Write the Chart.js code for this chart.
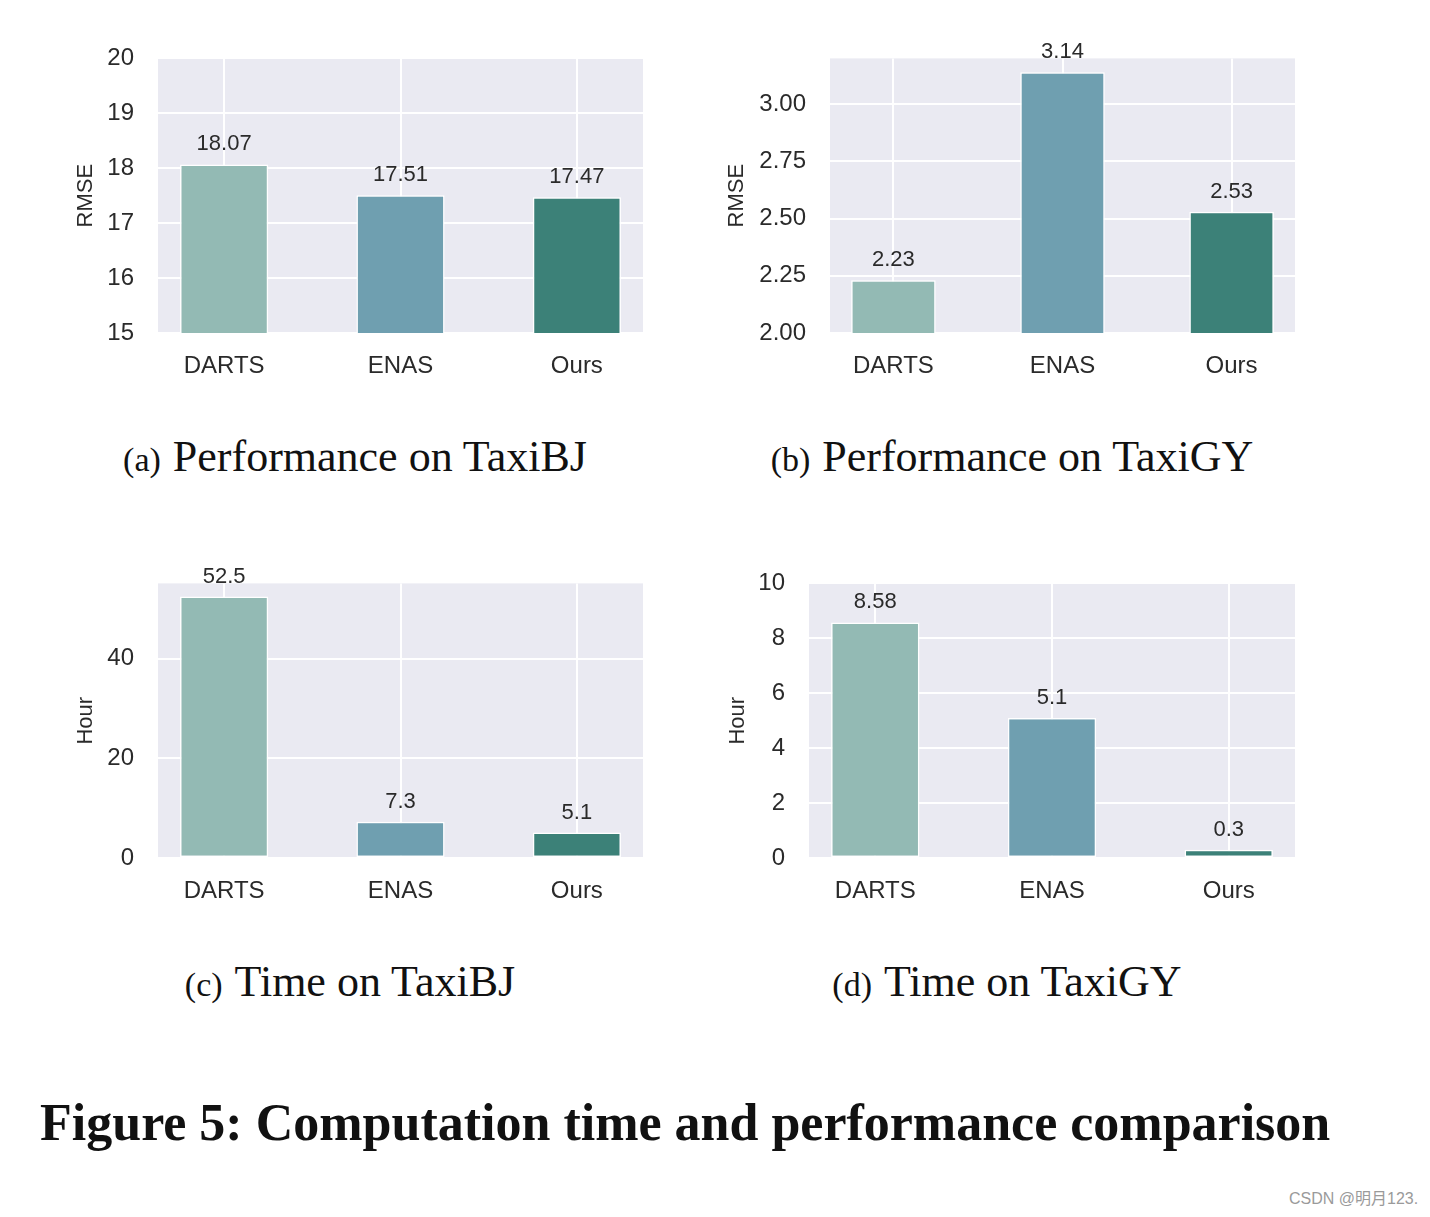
<!DOCTYPE html>
<html>
<head>
<meta charset="utf-8">
<script src="https://cdn.jsdelivr.net/npm/chart.js@4.4.0/dist/chart.umd.min.js"></script>
<style>
  html, body { margin: 0; padding: 0; background: #fff; }
  #page { position: relative; width: 1430px; height: 1217px; background: #fff; overflow: hidden; }
  canvas { position: absolute; }
  .cap {
    position: absolute; width: 700px; text-align: center; white-space: nowrap;
    font-family: 'Liberation Serif', 'DejaVu Serif', serif; font-size: 44px; line-height: 1; color: #111;
  }
  .cap .tag { font-size: 34px; margin-right: 12px; }
  #fig-title {
    position: absolute; left: 40px; top: 1097px; white-space: nowrap;
    font-family: 'Liberation Serif', 'DejaVu Serif', serif; font-weight: bold; font-size: 52px; line-height: 1; color: #111;
  }
  #mark {
    position: absolute; left: 1289px; top: 1191px; white-space: nowrap;
    font-family: 'Liberation Sans', 'Noto Sans CJK SC', sans-serif; font-size: 16px; line-height: 1; color: #9a9a9a;
  }
</style>
</head>
<body>
<div id="page">
  <canvas id="chartA" width="600" height="380" style="left:60px;top:20px"></canvas>
  <canvas id="chartB" width="600" height="380" style="left:710px;top:20px"></canvas>
  <canvas id="chartC" width="600" height="380" style="left:60px;top:545px"></canvas>
  <canvas id="chartD" width="600" height="380" style="left:710px;top:545px"></canvas>

  <div class="cap" style="left:5px;top:435px"><span class="tag">(a)</span>Performance on TaxiBJ</div>
  <div class="cap" style="left:662px;top:435px"><span class="tag">(b)</span>Performance on TaxiGY</div>
  <div class="cap" style="left:0px;top:960px"><span class="tag">(c)</span>Time on TaxiBJ</div>
  <div class="cap" style="left:657px;top:960px"><span class="tag">(d)</span>Time on TaxiGY</div>

  <div id="fig-title">Figure 5: Computation time and performance comparison</div>
  <div id="mark">CSDN @明月123.</div>
</div>

<script>
// ── Data ──────────────────────────────────────────────────────
const methods     = ['DARTS', 'ENAS', 'Ours'];
const barColors   = ['#93bab4', '#6f9fb0', '#3c8178'];

const rmseTaxiBJ  = [18.07, 17.51, 17.47];
const rmseTaxiGY  = [2.23, 3.14, 2.53];
const hourTaxiBJ  = [52.5, 7.3, 5.1];
const hourTaxiGY  = [8.58, 5.1, 0.3];

const ticksRmseBJ = [15, 16, 17, 18, 19, 20];
const ticksRmseGY = [2.00, 2.25, 2.50, 2.75, 3.00];
const ticksHourBJ = [0, 20, 40];
const ticksHourGY = [0, 2, 4, 6, 8, 10];

// ── Theme (seaborn darkgrid look) ─────────────────────────────
const PLOT_BG   = '#eaeaf2';
const TEXT_COL  = '#2a2a2a';
const SANS      = "'Liberation Sans', Arial, sans-serif";

// fill the plot area before anything else is drawn
const plotBg = {
  id: 'plotBg',
  beforeDraw(chart) {
    const { ctx, chartArea: a } = chart;
    ctx.save();
    ctx.fillStyle = PLOT_BG;
    ctx.fillRect(a.left, a.top, a.right - a.left, a.bottom - a.top);
    ctx.restore();
  },
};

// numbers on top of the bars
const valueLabels = {
  id: 'valueLabels',
  afterDatasetsDraw(chart) {
    const { ctx } = chart;
    const meta = chart.getDatasetMeta(0);
    const vals = chart.data.datasets[0].data;
    ctx.save();
    ctx.font = `22px ${SANS}`;
    ctx.fillStyle = TEXT_COL;
    ctx.textAlign = 'center';
    ctx.textBaseline = 'middle';
    meta.data.forEach((bar, i) => {
      ctx.fillText(String(vals[i].y), bar.x, bar.y - 20);
    });
    ctx.restore();
  },
};

// ── Builder ───────────────────────────────────────────────────
function makeChart(canvasId, values, yRange, yTicks, decimals, yTitle, box) {
  const ctx = document.getElementById(canvasId).getContext('2d');
  return new Chart(ctx, {
    type: 'bar',
    data: {
      datasets: [{
        data:            values.map((v, i) => ({ x: i, y: v })),
        backgroundColor: barColors,
        borderColor:     '#ffffff',
        borderWidth:     1.5,
        borderSkipped:   false,
        barPercentage:   0.5,
        categoryPercentage: 1,
      }],
    },
    options: {
      responsive: false,
      animation:  false,
      events:     [],
      devicePixelRatio: 1,
      layout: { padding: { left: 0, top: box.padT, right: box.padR, bottom: 0 } },
      plugins: { legend: { display: false }, tooltip: { enabled: false } },
      scales: {
        x: {
          type: 'linear',
          offset: false,
          min: -0.375,
          max: 2.375,
          afterBuildTicks: (s) => { s.ticks = methods.map((_, i) => ({ value: i })); },
          afterFit: (s) => { s.height = box.xH; },
          grid:   { color: '#ffffff', lineWidth: 2, drawTicks: false, offset: false },
          border: { display: false },
          ticks: {
            autoSkip: false, maxRotation: 0, padding: 19,
            color: TEXT_COL, font: { family: SANS, size: 24 },
            callback: (v) => methods[Math.round(v)],
          },
        },
        y: {
          min: yRange[0],
          max: yRange[1],
          afterBuildTicks: (s) => { s.ticks = yTicks.map((v) => ({ value: v })); },
          afterFit: (s) => { s.width = box.yW; },
          grid:   { color: '#ffffff', lineWidth: 2, drawTicks: false },
          border: { display: false },
          ticks: {
            padding: 24,
            color: TEXT_COL, font: { family: SANS, size: 24 },
            callback: (v) => v.toFixed(decimals),
          },
          title: {
            display: true, text: yTitle, color: TEXT_COL,
            font: { family: SANS, size: 22 },
            padding: { top: box.titlePad, bottom: 0 },
          },
        },
      },
    },
    plugins: [plotBg, valueLabels],
  });
}

makeChart('chartA', rmseTaxiBJ, [15, 20],     ticksRmseBJ, 0, 'RMSE', { yW: 98,  padT: 34, padR: 17, xH: 67, titlePad: 13 });
makeChart('chartB', rmseTaxiGY, [2, 3.2],     ticksRmseGY, 2, 'RMSE', { yW: 120, padT: 36, padR: 15, xH: 67, titlePad: 14 });
makeChart('chartC', hourTaxiBJ, [0, 55.125],  ticksHourBJ, 0, 'Hour', { yW: 98,  padT: 38, padR: 17, xH: 67, titlePad: 13 });
makeChart('chartD', hourTaxiGY, [0, 10],      ticksHourGY, 0, 'Hour', { yW: 99,  padT: 34, padR: 15, xH: 67, titlePad: 15 });
</script>
</body>
</html>
